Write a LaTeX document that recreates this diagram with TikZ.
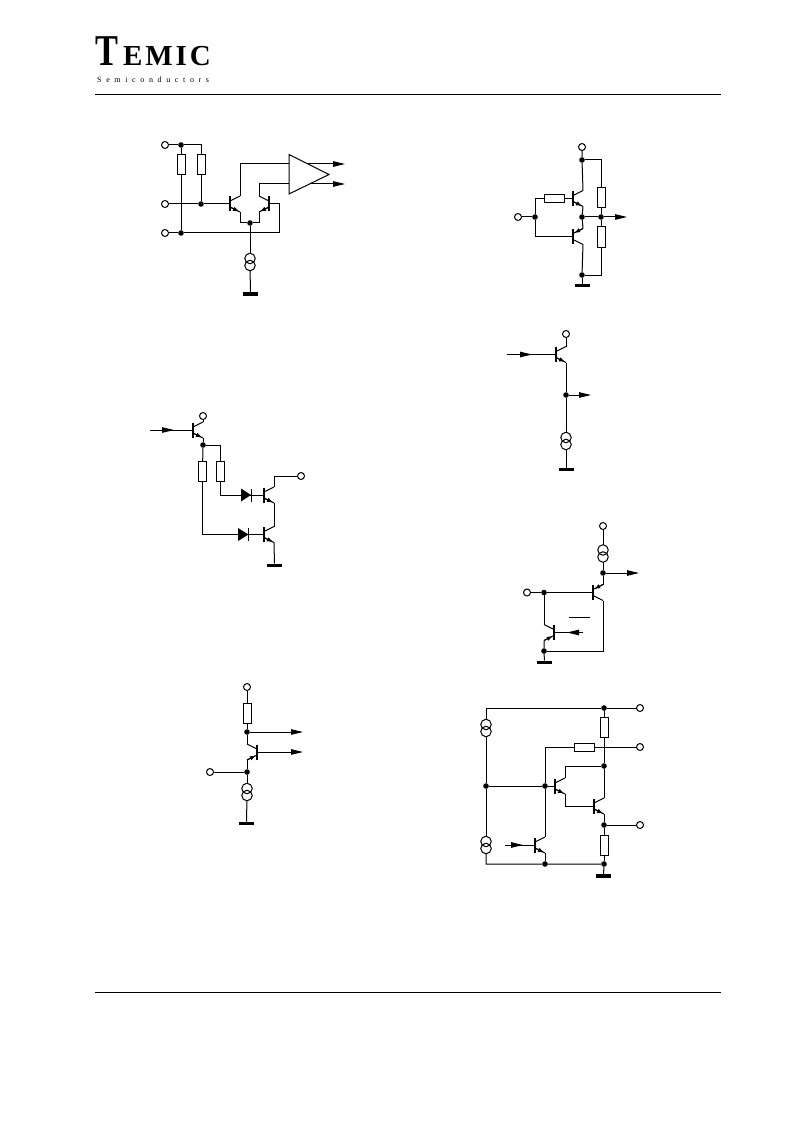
\documentclass[tikz,border=0pt]{standalone}
\usepackage{fontspec}
\setmainfont{Liberation Serif}
\newfontfamily\spaced[LetterSpace=58]{Liberation Serif}
\newfontfamily\logofont[LetterSpace=10]{Liberation Serif}
\usetikzlibrary{arrows.meta,calc}
\tikzset{
  wire/.style={line width=1pt,line join=miter},
  term/.style={circle,draw,fill=white,line width=1pt,minimum size=7pt,inner sep=0pt,outer sep=0pt},
  jdot/.style={circle,fill=black,minimum size=5.6pt,inner sep=0pt,outer sep=0pt},
  resv/.style={rectangle,draw,fill=white,line width=1pt,minimum width=8pt,minimum height=20pt,inner sep=0pt,outer sep=0pt},
  resh/.style={rectangle,draw,fill=white,line width=1pt,minimum width=20pt,minimum height=8pt,inner sep=0pt,outer sep=0pt},
  gnd/.style={rectangle,fill=black,minimum width=15pt,minimum height=3.8pt,inner sep=0pt,outer sep=0pt},
  cring/.style={circle,draw,line width=1pt,minimum size=10.5pt,inner sep=0pt,outer sep=0pt},
  tbar/.style={rectangle,fill=black,minimum width=2pt,minimum height=15pt,inner sep=0pt,outer sep=0pt},
  outarrow/.style={wire,-{Triangle[length=12pt,width=5.5pt]}},
  leadarrow/.style={wire,-{Latex[length=6pt,width=4.6pt]}},
  dio/.style={fill=black}
}
% bar, collector (upper) and emitter (lower) ends; #4 = side of the leads
\newcommand{\tbase}[4]{%
  \node[tbar] (#1) at (#2,#3) {};
  \coordinate (#1-b) at (#2,#3);
  \coordinate (#1-u) at ({#2+10*#4},{#3-8});
  \coordinate (#1-l) at ({#2+10*#4},{#3+8});
  \coordinate (#1-ub) at (#2,{#3-3});
  \coordinate (#1-lb) at (#2,{#3+3});
}
% arrow on lower lead, away from the bar
\newcommand{\tout}[4]{\tbase{#1}{#2}{#3}{#4}
  \draw[wire] (#1-ub) -- (#1-u);
  \draw[wire] (#1-lb) -- (#1-l);
  \draw[leadarrow] (#1-lb) -- ($(#1-lb)!0.9!(#1-l)$);}
% arrow on lower lead, toward the bar
\newcommand{\tinl}[4]{\tbase{#1}{#2}{#3}{#4}
  \draw[wire] (#1-ub) -- (#1-u);
  \draw[wire] (#1-lb) -- (#1-l);
  \draw[leadarrow] (#1-l) -- ($(#1-l)!0.88!(#1-lb)$);}
% arrow on upper lead, toward the bar
\newcommand{\tinu}[4]{\tbase{#1}{#2}{#3}{#4}
  \draw[wire] (#1-ub) -- (#1-u);
  \draw[wire] (#1-lb) -- (#1-l);
  \draw[leadarrow] (#1-u) -- ($(#1-u)!0.88!(#1-ub)$);}
\newcommand{\csrc}[3]{%
  \node[cring] (#1-a) at (#2,{#3-3.5}) {};
  \node[cring] (#1-b) at (#2,{#3+3.5}) {};
}
\begin{document}
\begin{tikzpicture}[x=1pt,y=-1pt]
\fill[white] (0,0) rectangle (793,1123);
\useasboundingbox (0,0) rectangle (793,1123);
% ---------- header / footer
\coordinate (hl) at (95,95); \coordinate (hr) at (721,95);
\coordinate (fl) at (95,992); \coordinate (fr) at (721,992);
\draw[wire] (hl) -- (hr);
\draw[wire] (fl) -- (fr);
\node[anchor=base west,inner sep=0pt,xscale=0.78] (logoT) at (95.5,66) {\fontsize{44}{44}\selectfont\bfseries T};
\node[anchor=base west,inner sep=0pt] (logoE) at (123,66) {\fontsize{29}{29}\selectfont\logofont\bfseries EMIC};
\node[anchor=base west,inner sep=0pt] (logoS) at (97,82.5) {\fontsize{8}{8}\selectfont\spaced Semiconductors};

% ---------- circuit 1
\node[term] (a1) at (165,145) {};
\node[term] (a2) at (165,204) {};
\node[term] (a3) at (165,233) {};
\node[jdot] (a4) at (181,145) {};
\node[jdot] (a5) at (201,204) {};
\node[jdot] (a6) at (181,233) {};
\node[jdot] (a7) at (250,223) {};
\coordinate (a8) at (201,145);
\node[resv] (ar1) at (181,164.5) {};
\node[resv] (ar2) at (201,165) {};
\tout{aq1}{230}{204}{1}
\tout{aq2}{269}{204}{-1}
\csrc{ac}{250}{262}
\node[gnd] (ag) at (250.5,294) {};
\coordinate (ain1) at (289,164);
\coordinate (ain2) at (289,184);
\coordinate (aout1) at (345,164);
\coordinate (aout2) at (345,184);
\coordinate (aout1s) at (305,164);
\coordinate (aout2s) at (305,184);
\coordinate (ab2) at (279,204);
\draw[outarrow] (aout1s) -- (aout1);
\draw[outarrow] (aout2s) -- (aout2);
\draw[wire,fill=white] (289,154.5) -- (329,174.5) -- (289,194) -- cycle;
\draw[wire] (a1) -- (a4) -- (a8) -- (ar2) -- (a5);
\draw[wire] (a4) -- (ar1) -- (a6);
\draw[wire] (a2) -- (a5) -- (aq1-b);
\draw[wire] (a3) -- (a6) -- (ab2 |- a6) -- (ab2) -- (aq2-b);
\draw[wire] (aq1-u) |- (ain1);
\draw[wire] (aq2-u) |- (ain2);
\draw[wire] (aq1-l) |- (a7);
\draw[wire] (aq2-l) |- (a7);
\draw[wire] (a7) -- (ac-a);
\draw[wire] (ac-b) -- (ag);

% ---------- circuit 2
\node[term] (b1) at (582,147) {};
\node[jdot] (b2) at (582,160) {};
\coordinate (b3) at (601,160);
\node[resv] (br1) at (601,198) {};
\node[jdot] (b4) at (601,217) {};
\node[resv] (br2) at (601,237) {};
\coordinate (b5) at (601,275);
\node[jdot] (b6) at (582,275) {};
\node[gnd] (bg) at (582,285.5) {};
\node[jdot] (b7) at (582,217) {};
\node[jdot] (b8) at (535,217) {};
\node[term] (b9) at (518,217) {};
\coordinate (b10) at (627,217);
\node[resh] (br3) at (554,198.5) {};
\coordinate (b11) at (535,198.5);
\coordinate (b12) at (535,236.5);
\tout{bq1}{573}{198.5}{1}
\tinu{bq2}{573}{236.5}{1}
\draw[wire] (b1) -- (b2) -- (bq1-u);
\draw[wire] (b2) -- (b3) -- (br1) -- (b4) -- (br2) -- (b5) -- (b6);
\draw[wire] (b6) -- (bg);
\draw[wire] (bq1-l) -- (b7) -- (bq2-u);
\draw[wire] (bq2-l) -- (b6);
\draw[wire] (b7) -- (b4);
\draw[outarrow] (b4) -- (b10);
\draw[wire] (b9) -- (b8);
\draw[wire] (b8) -- (b11) -- (br3) -- (bq1-b);
\draw[wire] (b8) -- (b12) -- (bq2-b);

% ---------- circuit 3 (left middle)
\tout{cq1}{193}{430}{1}
\node[term] (c1) at (203,416) {};
\node[jdot] (c2) at (203,445) {};
\coordinate (c3) at (220.5,445);
\node[resv] (cr1) at (202.5,471) {};
\node[resv] (cr2) at (220.5,471) {};
\coordinate (cin) at (150,430);
\coordinate (cinh) at (174,430);
\draw[wire] (cin) -- (cq1-b);
\draw[outarrow] (cin) -- (cinh);
\draw[wire] (c1) -- (cq1-u);
\draw[wire] (cq1-l) -- (c2) -- (c3) -- (cr2);
\draw[wire] (c2) -- (cr1);
\tout{cq2}{264}{495}{1}
\tout{cq3}{264}{534.5}{1}
\coordinate (c4) at (220.5,495);
\coordinate (c5) at (202.5,534.5);
\draw[wire] (cr2) -- (c4) -- (cq2-b);
\draw[wire] (cr1) -- (c5) -- (cq3-b);
\fill[dio] (241,488.5) -- (251,495) -- (241,501.5) -- cycle;
\draw[wire] (251,488.5) -- (251,501.5);
\fill[dio] (238,528) -- (248.5,534.5) -- (238,541) -- cycle;
\draw[wire] (248.5,528) -- (248.5,541);
\node[term] (c6) at (301,476) {};
\draw[wire] (c6) -| (cq2-u);
\draw[wire] (cq2-l) -- (cq3-u);
\node[gnd] (cg) at (274.5,565.5) {};
\draw[wire] (cq3-l) -- (cg);

% ---------- circuit 4
\tout{dq}{556}{354.5}{1}
\node[term] (d1) at (566,334) {};
\node[jdot] (d2) at (566,395) {};
\csrc{dc}{566}{441}
\node[gnd] (dg) at (566,469.5) {};
\coordinate (din) at (507,354.5);
\coordinate (dinh) at (532,354.5);
\coordinate (dout) at (591,395);
\draw[wire] (din) -- (dq-b);
\draw[outarrow] (din) -- (dinh);
\draw[wire] (d1) -- (dq-u);
\draw[wire] (dq-l) -- (d2) -- (dc-a);
\draw[outarrow] (d2) -- (dout);
\draw[wire] (dc-b) -- (dg);

% ---------- circuit 5
\node[term] (e1) at (603,526) {};
\csrc{ec}{603}{553.5}
\node[jdot] (e2) at (603,573) {};
\coordinate (eout) at (639,573);
\tinu{eq1}{593}{592.5}{1}
\node[jdot] (e3) at (544,592.5) {};
\node[term] (e4) at (527,592.5) {};
\node[jdot] (e5) at (544,651) {};
\node[gnd] (eg) at (544.5,662.5) {};
\tinl{eq2}{554}{632.5}{-1}
\coordinate (e6) at (603,651);
\coordinate (ein) at (583,632.5);
\coordinate (einh) at (567,632.5);
\coordinate (ebl) at (569,617);
\coordinate (ebr) at (590,617);
\draw[wire] (e1) -- (ec-a);
\draw[wire] (ec-b) -- (e2) -- (eq1-u);
\draw[outarrow] (e2) -- (eout);
\draw[wire] (e4) -- (e3) -- (eq1-b);
\draw[wire] (eq1-l) -- (e6) -- (e5);
\draw[wire] (e3) -- (eq2-u);
\draw[wire] (eq2-l) -- (e5) -- (eg);
\draw[wire] (ein) -- (eq2-b);
\draw[outarrow] (ein) -- (einh);
\draw[wire] (ebl) -- (ebr);

% ---------- circuit 6
\node[term] (f1) at (247,687) {};
\node[resv] (fr) at (247,713) {};
\node[jdot] (f2) at (247,732) {};
\tinl{fq}{257}{752}{-1}
\node[jdot] (f3) at (247,772) {};
\node[term] (f4) at (210,772) {};
\csrc{fc}{247}{792}
\node[gnd] (fg) at (246.5,823.5) {};
\coordinate (fo1) at (303,732);
\coordinate (fo2) at (303,752);
\draw[wire] (f1) -- (fr) -- (f2) -- (fq-u);
\draw[outarrow] (f2) -- (fo1);
\draw[outarrow] (fq-b) -- (fo2);
\draw[wire] (fq-l) -- (f3) -- (fc-a);
\draw[wire] (f4) -- (f3);
\draw[wire] (fc-b) -- (fg);

% ---------- circuit 7
\node[term] (g1) at (640,708) {};
\node[term] (g2) at (640,747) {};
\node[term] (g3) at (640,825) {};
\node[jdot] (g4) at (604,708) {};
\node[jdot] (g5) at (604,766) {};
\node[jdot] (g6) at (604,825) {};
\node[jdot] (g7) at (604,864) {};
\node[jdot] (g8) at (545,864) {};
\node[jdot] (g9) at (545,786) {};
\node[jdot] (g10) at (486,786) {};
\coordinate (g11) at (486,708);
\coordinate (g12) at (486,864);
\coordinate (g13) at (545,747);
\node[resv] (gr1) at (604,727) {};
\node[resh] (gr2) at (584,747) {};
\node[resv] (gr3) at (604,845) {};
\csrc{gc1}{486}{728}
\csrc{gc2}{486}{845}
\node[gnd] (gg) at (603.5,876) {};
\tout{gq1}{555}{786}{1}
\tout{gq2}{594}{806}{1}
\tout{gq3}{535}{845}{1}
\coordinate (gin) at (505,845);
\coordinate (ginh) at (523,845);
\draw[wire] (g1) -- (g4) -- (g11) -- (gc1-a);
\draw[wire] (gc1-b) -- (g10) -- (gc2-a);
\draw[wire] (gc2-b) -- (g12) -- (g8) -- (g7) -- (gg);
\draw[wire] (g4) -- (gr1) -- (g5);
\draw[wire] (g2) -- (gr2) -- (g13) -- (g9);
\draw[wire] (g10) -- (g9) -- (gq1-b);
\draw[wire] (g9) -- (gq3-u);
\draw[wire] (gq1-u) |- (g5);
\draw[wire] (gq2-u) -- (g5);
\draw[wire] (gq1-l) |- (gq2-b);
\draw[wire] (gq2-l) -- (g6) -- (gr3) -- (g7);
\draw[wire] (g6) -- (g3);
\draw[wire] (gq3-l) -- (g8);
\draw[wire] (gin) -- (gq3-b);
\draw[outarrow] (gin) -- (ginh);
\end{tikzpicture}
\end{document}
